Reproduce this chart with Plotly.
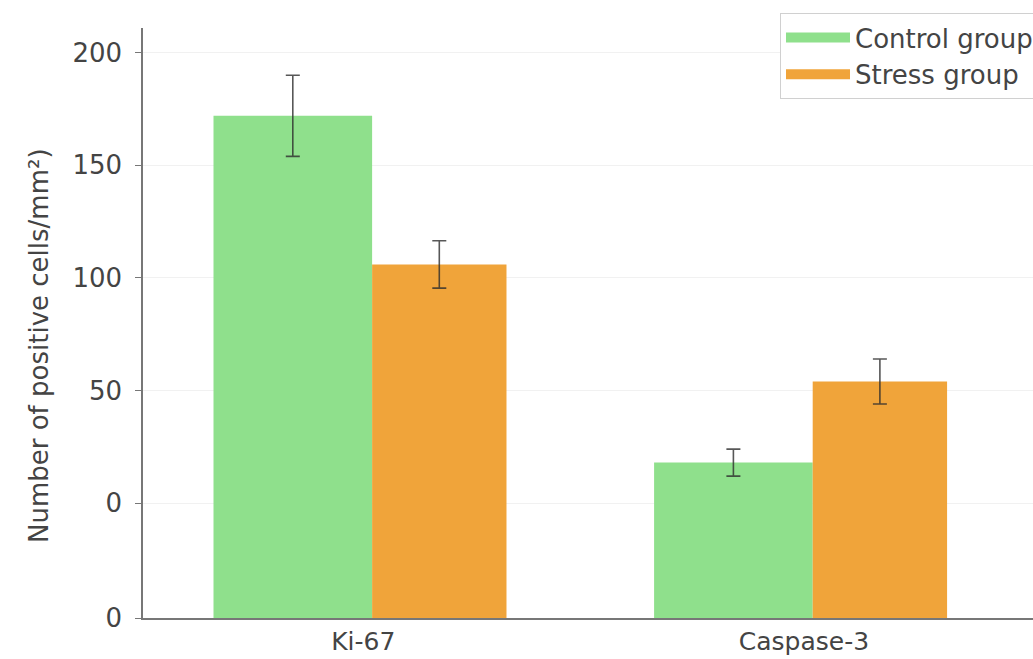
import plotly.graph_objects as go

categories = ["Ki-67", "Caspase-3"]
control_values = [172, 18]
control_errors = [18, 6]
stress_values = [106, 54]
stress_errors = [10.5, 10]
tick_values = [-51, 0, 50, 100, 150, 200]
tick_labels = ["0", "0", "50", "100", "150", "200"]
y_title = "Number of positive cells/mm²)"

Y_BOTTOM = -51
Y_TOP = 211
FONT = "DejaVu Sans"
GREEN = "#8fe08c"
ORANGE = "#f0a43a"
ERR = "rgba(45,45,45,0.8)"
L, T, B, W, H = 143, 28, 41, 1033, 659
PW, PH = W - L, H - T - B

fig = go.Figure()
fig.add_trace(go.Bar(
    x=categories, y=[v - Y_BOTTOM for v in control_values], base=[Y_BOTTOM] * len(categories),
    marker=dict(color=GREEN, line=dict(width=0)), width=0.36, offset=-0.34,
    error_y=dict(type="data", array=control_errors, color=ERR, thickness=1.6, width=7),
    showlegend=False, name="Control group"))
fig.add_trace(go.Bar(
    x=categories, y=[v - Y_BOTTOM for v in stress_values], base=[Y_BOTTOM] * len(categories),
    marker=dict(color=ORANGE, line=dict(width=0)), width=0.305, offset=0.02,
    error_y=dict(type="data", array=stress_errors, color=ERR, thickness=1.6, width=7),
    showlegend=False, name="Stress group"))
# legend swatches
for nm, col in [("Control group", GREEN), ("Stress group", ORANGE)]:
    fig.add_trace(go.Scatter(x=[None], y=[None], mode="lines", name=nm,
                             line=dict(color=col, width=18), showlegend=True))

fig.update_layout(
    width=W, height=H,
    margin=dict(l=L, r=0, t=T, b=B, autoexpand=False),
    paper_bgcolor="white", plot_bgcolor="white",
    barmode="group",
    font=dict(family=FONT, size=24, color="#444444"),
    legend=dict(x=(780 - L) / PW, y=1 + (T - 13) / PH, xanchor="left", yanchor="top",
                bgcolor="white", bordercolor="#d0d0d0", borderwidth=1,
                font=dict(family=FONT, size=26, color="#444444"), itemwidth=64),
    xaxis=dict(type="category", range=[-0.5, 1.52], showgrid=False, zeroline=False,
               showline=True, linecolor="#777777", linewidth=1.5, ticks="",
               tickfont=dict(size=25), ticklabelstandoff=0),
    yaxis=dict(range=[Y_BOTTOM, Y_TOP], tickvals=tick_values, ticktext=tick_labels,
               showgrid=True, gridcolor="#f1f1f1", gridwidth=1, zeroline=False,
               showline=True, linecolor="#777777", linewidth=1.5,
               ticks="outside", ticklen=6, tickcolor="#777777",
               tickfont=dict(size=26), ticklabelstandoff=8),
    annotations=[dict(text=y_title, textangle=-90, showarrow=False,
                      xref="paper", yref="paper", x=(39 - L) / PW, y=(H - B - 346) / PH,
                      xanchor="center", yanchor="middle",
                      font=dict(family=FONT, size=26, color="#444444"))],
)

fig.write_html("out.html", config={"displayModeBar": False},
               post_script="document.body.style.margin='0';document.body.style.overflow='hidden';")
